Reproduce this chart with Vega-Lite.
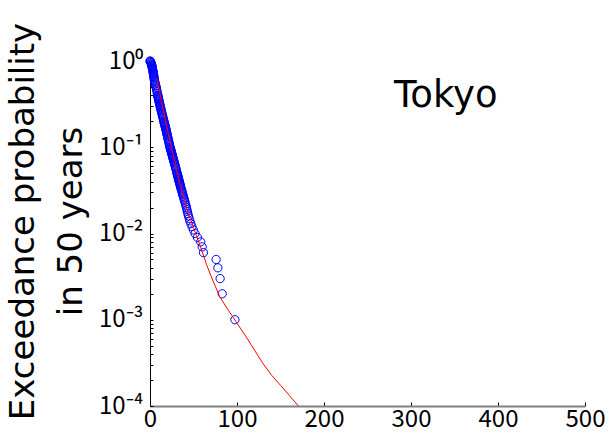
{
  "$schema": "https://vega.github.io/schema/vega-lite/v6.json",
  "width": 435,
  "height": 345,
  "autosize": {"type": "none"},
  "padding": {"left": 150, "top": 61, "right": 29, "bottom": 32},
  "background": "#ffffff",
  "config": {"view": {"stroke": null}},
  "datasets": {
    "obs": [
      {"x":97.6,"p":0.001},{"x":83,"p":0.002},{"x":80.6,"p":0.003},{"x":78,"p":0.004},{"x":76,"p":0.005},
      {"x":61.4,"p":0.006},{"x":60,"p":0.007},{"x":58.3,"p":0.008},{"x":54.5,"p":0.009},{"x":51.8,"p":0.01},
      {"x":49.9,"p":0.011},{"x":48.3,"p":0.012},{"x":47.0,"p":0.013},{"x":45.8,"p":0.014},{"x":45.0,"p":0.015},
      {"x":44.2,"p":0.016},{"x":43.5,"p":0.017},{"x":42.9,"p":0.018},{"x":42.4,"p":0.019},{"x":41.9,"p":0.02},
      {"x":41.35,"p":0.021},{"x":40.8,"p":0.022},{"x":40.25,"p":0.023},{"x":39.7,"p":0.024},{"x":39.2,"p":0.025},
      {"x":38.7,"p":0.026},{"x":38.25,"p":0.027},{"x":37.8,"p":0.028},{"x":37.4,"p":0.029},{"x":37.0,"p":0.03},
      {"x":36.6,"p":0.031},{"x":36.2,"p":0.032},{"x":35.8,"p":0.033},{"x":35.45,"p":0.034},{"x":35.1,"p":0.035},
      {"x":34.8,"p":0.036},{"x":34.5,"p":0.037},{"x":34.2,"p":0.038},{"x":33.9,"p":0.039},{"x":33.6,"p":0.04},
      {"x":33.35,"p":0.041},{"x":33.1,"p":0.042},{"x":32.8,"p":0.043},{"x":32.55,"p":0.044},{"x":32.3,"p":0.045},
      {"x":32.05,"p":0.046},{"x":31.8,"p":0.047},{"x":31.55,"p":0.048},{"x":31.35,"p":0.049},{"x":31.1,"p":0.05},
      {"x":30.7,"p":0.052},{"x":30.3,"p":0.054},{"x":29.9,"p":0.056},{"x":29.5,"p":0.058},{"x":29.1,"p":0.06},
      {"x":28.7,"p":0.062},{"x":28.3,"p":0.064},{"x":27.95,"p":0.066},{"x":27.6,"p":0.068},{"x":27.3,"p":0.07},
      {"x":26.95,"p":0.072},{"x":26.6,"p":0.074},{"x":26.25,"p":0.076},{"x":25.95,"p":0.078},{"x":25.7,"p":0.08},
      {"x":25.4,"p":0.082},{"x":25.15,"p":0.084},{"x":24.85,"p":0.086},{"x":24.6,"p":0.088},{"x":24.3,"p":0.09},
      {"x":24.0,"p":0.092},{"x":23.75,"p":0.094},{"x":23.5,"p":0.096},{"x":23.25,"p":0.098},{"x":23.0,"p":0.1},
      {"x":22.65,"p":0.104},{"x":22.3,"p":0.108},{"x":21.9,"p":0.112},{"x":21.55,"p":0.116},{"x":21.2,"p":0.12},
      {"x":20.9,"p":0.124},{"x":20.55,"p":0.128},{"x":20.25,"p":0.132},{"x":20.0,"p":0.136},{"x":19.7,"p":0.14},
      {"x":19.4,"p":0.144},{"x":19.15,"p":0.148},{"x":18.9,"p":0.152},{"x":18.65,"p":0.156},{"x":18.4,"p":0.16},
      {"x":18.15,"p":0.164},{"x":17.9,"p":0.168},{"x":17.6,"p":0.172},{"x":17.35,"p":0.176},{"x":17.1,"p":0.18},
      {"x":16.85,"p":0.184},{"x":16.6,"p":0.188},{"x":16.4,"p":0.192},{"x":16.2,"p":0.196},{"x":16.0,"p":0.2},
      {"x":15.55,"p":0.208},{"x":15.15,"p":0.216},{"x":14.75,"p":0.224},{"x":14.35,"p":0.232},{"x":14.0,"p":0.24},
      {"x":13.65,"p":0.248},{"x":13.3,"p":0.256},{"x":13.0,"p":0.264},{"x":12.7,"p":0.272},{"x":12.4,"p":0.28},
      {"x":12.1,"p":0.288},{"x":11.85,"p":0.296},{"x":11.55,"p":0.304},{"x":11.3,"p":0.312},{"x":11.05,"p":0.32},
      {"x":10.8,"p":0.328},{"x":10.55,"p":0.336},{"x":10.35,"p":0.344},{"x":10.1,"p":0.352},{"x":9.9,"p":0.36},
      {"x":9.7,"p":0.368},{"x":9.5,"p":0.376},{"x":9.3,"p":0.384},{"x":9.15,"p":0.392},{"x":9.0,"p":0.4},
      {"x":8.5,"p":0.42},{"x":8.1,"p":0.44},{"x":7.75,"p":0.46},{"x":7.4,"p":0.48},{"x":7.0,"p":0.5},
      {"x":6.6,"p":0.52},{"x":6.2,"p":0.54},{"x":5.8,"p":0.56},{"x":5.4,"p":0.58},{"x":5.05,"p":0.6},
      {"x":4.85,"p":0.62},{"x":4.6,"p":0.64},{"x":4.4,"p":0.66},{"x":4.25,"p":0.68},{"x":4.1,"p":0.7},
      {"x":3.85,"p":0.72},{"x":3.6,"p":0.74},{"x":3.4,"p":0.76},{"x":3.15,"p":0.78},{"x":2.95,"p":0.8},
      {"x":2.75,"p":0.82},{"x":2.6,"p":0.84},{"x":2.4,"p":0.86},{"x":2.2,"p":0.88},{"x":1.9,"p":0.9},
      {"x":1.65,"p":0.92},{"x":1.35,"p":0.94},{"x":1.05,"p":0.96},{"x":0.6,"p":0.98},{"x":0.3,"p":0.99},
      {"x":0,"p":1.0}
    ],
    "fit": [
      {"x":8,"p":0.6237},{"x":10,"p":0.4955},{"x":15,"p":0.2805},{"x":20,"p":0.1622},{"x":25,"p":0.0955},
      {"x":30,"p":0.05754},{"x":35,"p":0.03631},{"x":40,"p":0.02344},{"x":45,"p":0.01603},{"x":50,"p":0.01175},
      {"x":55,"p":0.008511},{"x":60,"p":0.006166},{"x":65,"p":0.004365},{"x":70,"p":0.003236},{"x":75,"p":0.002455},
      {"x":80,"p":0.001862},{"x":90,"p":0.001288},{"x":100,"p":0.000912},{"x":110,"p":0.000646},{"x":120,"p":0.000447},
      {"x":130,"p":0.000309},{"x":140,"p":0.000226},{"x":150,"p":0.000174},{"x":160,"p":0.000133},{"x":170.6,"p":0.0001}
    ],
    "lbl": [{"x":340,"p":0.295,"label":"Tokyo"}]
  },
  "layer": [
    {
      "data": {"name": "obs"},
      "mark": {"type": "point", "shape": "circle", "filled": false, "color": "#0000ff", "size": 68, "strokeWidth": 1, "opacity": 1},
      "encoding": {
        "x": {
          "field": "x", "type": "quantitative",
          "scale": {"domain": [0, 500], "nice": false, "zero": false},
          "axis": {
            "title": null,
            "values": [0, 100, 200, 300, 400, 500],
            "grid": false,
            "ticks": true,
            "tickSize": -4,
            "tickWidth": 1,
            "tickColor": "#000000",
            "labelPadding": 5,
            "labelFont": "Noto Sans CJK JP",
            "labelFontSize": 24,
            "labelColor": "#000000",
            "labelFlush": false,
            "labelOverlap": false,
            "domainColor": "#808080",
            "domainWidth": 2
          }
        },
        "y": {
          "field": "p", "type": "quantitative",
          "scale": {"type": "log", "domain": [0.0001, 1], "nice": false},
          "axis": {
            "title": ["Exceedance probability", "in 50 years"],
            "titleFont": "DejaVu Sans",
            "titleFontSize": 34,
            "titleFontWeight": "normal",
            "titleColor": "#000000",
            "titleAngle": 270,
            "titleAlign": "center",
            "titleBaseline": "alphabetic",
            "titleLineHeight": 48,
            "titleX": -117,
            "titleY": 160,
            "values": [1,0.9,0.8,0.7,0.6,0.5,0.4,0.3,0.2,0.1,0.09,0.08,0.07,0.06,0.05,0.04,0.03,0.02,0.01,0.009,0.008,0.007,0.006,0.005,0.004,0.003,0.002,0.001,0.0009,0.0008,0.0007,0.0006,0.0005,0.0004,0.0003,0.0002,0.0001],
            "labelExpr": "datum.value == 1 ? '10⁰' : datum.value == 0.1 ? '10⁻¹' : datum.value == 0.01 ? '10⁻²' : datum.value == 0.001 ? '10⁻³' : datum.value == 0.0001 ? '10⁻⁴' : ''",
            "grid": false,
            "ticks": true,
            "tickSize": -3,
            "tickWidth": 1,
            "tickColor": "#000000",
            "labelPadding": 10,
            "labelFont": "Noto Sans CJK JP",
            "labelFontSize": 24,
            "labelColor": "#000000",
            "labelOverlap": false,
            "labelFlush": false,
            "domainColor": "#000000",
            "domainWidth": 1,
            "encode": {"ticks": {"update": {"x2": {"signal": "abs(log(datum.value)/LN10 - round(log(datum.value)/LN10)) < 0.01 ? 6 : 3"}}}}
          }
        }
      }
    },
    {
      "data": {"name": "fit"},
      "mark": {"type": "line", "color": "#ff0000", "strokeWidth": 1},
      "encoding": {
        "x": {"field": "x", "type": "quantitative"},
        "y": {"field": "p", "type": "quantitative"}
      }
    },
    {
      "data": {"name": "lbl"},
      "mark": {"type": "text", "font": "DejaVu Sans", "fontSize": 37, "align": "center", "baseline": "alphabetic", "color": "#000000"},
      "encoding": {
        "x": {"field": "x", "type": "quantitative"},
        "y": {"field": "p", "type": "quantitative"},
        "text": {"field": "label"}
      }
    }
  ]
}
